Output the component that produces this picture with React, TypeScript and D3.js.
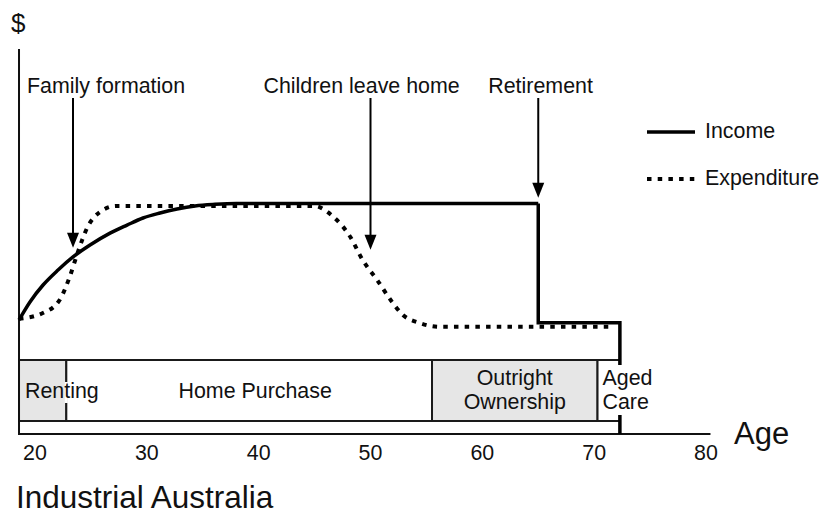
import React from "react";
import * as d3 from "d3";

// ---- data ----
const tickAges = [20, 30, 40, 50, 60, 70, 80];

const incomeAges = [18.57, 19.55, 20.72, 22.06, 23.4, 24.92, 26.71, 28.23, 29.66, 31.18, 32.7, 34.31, 36.1, 38, 65];
const incomeValues = [29.7, 34.4, 38.8, 42.7, 46.1, 49.2, 52.3, 54.4, 56.25, 57.55, 58.6, 59.4, 59.8, 60, 60];

const retiredAges = [65, 65, 72.3, 72.3];
const retiredValues = [60, 29, 29, 0];

const expenditureAges = [18.57, 20.7, 22.2, 23.1, 23.8, 24.7, 25.8, 27.3, 44.9, 46.7, 48.2, 49.3, 50.6, 51.8, 52.9, 54.4, 56.2, 71.8];
const expenditureValues = [30, 31.5, 34.9, 40.9, 47.1, 53.9, 57.8, 59.4, 59.4, 56.5, 51.3, 45.3, 40.1, 34.9, 31.0, 28.9, 27.9, 27.9];

const stageNames = [["Renting"], ["Home Purchase"], ["Outright", "Ownership"], ["Aged", "Care"]];
const stageStarts = [18.57, 22.8, 55.5, 70.3];
const stageEnds = [22.8, 55.5, 70.3, 72.3];
const stageShaded = [true, false, true, false];

const eventLabels = ["Family formation", "Children leave home", "Retirement"];
const eventAges = [23.4, 50, 65];
const eventTipValues = [48.5, 48, 61.5];

const legendLabels = ["Income", "Expenditure"];

// ---- layout ----
const W = 819;
const H = 514;
const FONT = "'Liberation Sans', Arial, Helvetica, sans-serif";
const FS = 21.4;
const axisStartAge = 18.57;
const axisEndAge = 80.4;
const bandTop = 360;
const bandBottom = 421;
const eventTop = 98;
const eventLabelDx = [-46, -107, -50];
const eventLabelY = 93;
const stageAnchor = ["start", "middle", "middle", "start"];
const stageDx = [6, 6, 0, 5];
const DASH = "4.5,6.2";

export default function App() {
  const x = d3.scaleLinear().domain([20, 80]).range([35, 706]);
  const y = d3.scaleLinear().domain([0, 100]).range([434, 50]);

  const curveLine = d3
    .line<[number, number]>()
    .x((d) => x(d[0]))
    .y((d) => y(d[1]))
    .curve(d3.curveMonotoneX);
  const stepLine = d3
    .line<[number, number]>()
    .x((d) => x(d[0]))
    .y((d) => y(d[1]));

  const incomePts = incomeAges.map((a, i) => [a, incomeValues[i]] as [number, number]);
  const retiredPts = retiredAges.map((a, i) => [a, retiredValues[i]] as [number, number]);
  const expPts = expenditureAges.map((a, i) => [a, expenditureValues[i]] as [number, number]);

  const x0 = x(axisStartAge);
  const x1 = x(axisEndAge);
  const yBase = y(0);

  return (
    <svg
      width={W}
      height={H}
      viewBox={`0 0 ${W} ${H}`}
      style={{ position: "absolute", left: 0, top: 0, display: "block", background: "#fff" }}
      fontFamily={FONT}
    >
      <rect x={0} y={0} width={W} height={H} fill="#fff" />

      {/* life stage band boxes */}
      {stageNames.map((names, i) => {
        const sx = x(stageStarts[i]);
        const ex = x(stageEnds[i]);
        return (
          <rect
            key={i}
            x={sx}
            y={bandTop}
            width={ex - sx}
            height={bandBottom - bandTop}
            fill={stageShaded[i] ? "#e6e6e6" : "#fff"}
            stroke="#1a1a1a"
            strokeWidth={2}
          />
        );
      })}

      {/* axes */}
      <line x1={x0} y1={49} x2={x0} y2={yBase + 1} stroke="#111" strokeWidth={2} />
      <line x1={x0} y1={yBase} x2={x1} y2={yBase} stroke="#111" strokeWidth={2} />
      {tickAges.map((t) => (
        <text key={t} x={x(t)} y={460} textAnchor="middle" fontSize={FS} fill="#111">
          {t}
        </text>
      ))}
      <text x={734} y={444} fontSize={31} fill="#111">Age</text>
      <text x={11} y={32} fontSize={26} fill="#111">$</text>
      <text x={16} y={508} fontSize={31.5} fill="#111">Industrial Australia</text>

      {/* expenditure */}
      <path d={curveLine(expPts) || ""} fill="none" stroke="#000" strokeWidth={4} strokeDasharray={DASH} />

      {/* income */}
      <path d={curveLine(incomePts) || ""} fill="none" stroke="#000" strokeWidth={3.5} />
      <path d={stepLine(retiredPts) || ""} fill="none" stroke="#000" strokeWidth={3.5} strokeLinejoin="miter" />

      {/* label backgrounds interrupting lines, as in the original */}
      <rect x={x(stageStarts[1]) - 1.5} y={382} width={3} height={21} fill="#fff" />
      <rect x={x(stageStarts[3]) + 2} y={365} width={x(stageEnds[3]) - x(stageStarts[3]) + 2} height={50} fill="#fff" />

      {/* stage labels */}
      {stageNames.map((names, i) => {
        const sx = x(stageStarts[i]);
        const ex = x(stageEnds[i]);
        const cx = (stageAnchor[i] === "middle" ? (sx + ex) / 2 : sx) + stageDx[i];
        const lines = names.length;
        return names.map((n, j) => (
          <text
            key={`${i}-${j}`}
            x={cx}
            y={lines === 1 ? 398 : 385 + j * 24}
            textAnchor={stageAnchor[i]}
            fontSize={FS}
            fill="#111"
          >
            {n}
          </text>
        ));
      })}

      {/* event arrows */}
      {eventLabels.map((lab, i) => {
        const ax = x(eventAges[i]);
        const tip = y(eventTipValues[i]);
        return (
          <g key={lab}>
            <line x1={ax} y1={eventTop} x2={ax} y2={tip - 10} stroke="#000" strokeWidth={2} />
            <path d={`M${ax},${tip} L${ax - 6},${tip - 15} L${ax + 6},${tip - 15} Z`} fill="#000" />
            <text x={ax + eventLabelDx[i]} y={eventLabelY} fontSize={FS} fill="#111">
              {lab}
            </text>
          </g>
        );
      })}

      {/* legend */}
      {legendLabels.map((lab, i) => {
        const ly = 132 + i * 47;
        return (
          <g key={lab}>
            <line
              x1={647}
              y1={ly}
              x2={695}
              y2={ly}
              stroke="#000"
              strokeWidth={i === 0 ? 3.5 : 4}
              strokeDasharray={i === 0 ? undefined : DASH}
            />
            <text x={705} y={ly + 6} fontSize={FS} fill="#111">
              {lab}
            </text>
          </g>
        );
      })}
    </svg>
  );
}
